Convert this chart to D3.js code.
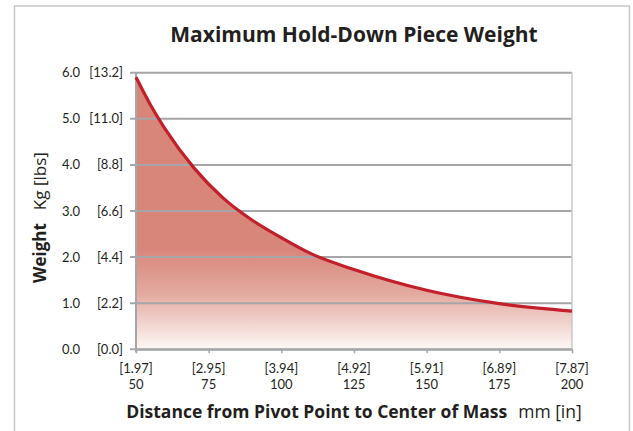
<!DOCTYPE html>
<html lang="en">

<head>
    <meta charset="UTF-8">
    <title>Maximum Hold-Down Piece Weight</title>
    <script src="https://d3js.org/d3.v7.min.js"></script>
    <style>
        body {
            margin: 0;
            background: #fff;
        }

        text {
            font-family: "Open Sans", Lato, "DejaVu Sans", sans-serif;
            fill: #231f20;
        }

        .title {
            font-size: 21px;
            font-weight: bold;
        }

        .tick_label {
            font-family: Lato, "Open Sans", sans-serif;
            font-size: 13px;
        }

        .axis_title {
            font-size: 17.5px;
        }

        .y_title {
            font-size: 17px;
        }
    </style>
</head>

<body>
    <svg id="chart" width="633" height="431"></svg>
    <script>
        // data
        let distanceMm = [50, 55, 60, 70, 80, 90, 100, 110, 125, 150, 175, 200]
        let weightKg = [5.9, 5.3, 4.78, 3.93, 3.28, 2.8, 2.42, 2.08, 1.73, 1.28, 0.99, 0.83]

        let xTicks = [50, 75, 100, 125, 150, 175, 200]
        let xTickInches = ["[1.97]", "[2.95]", "[3.94]", "[4.92]", "[5.91]", "[6.89]", "[7.87]"]
        let yTicks = [0, 1, 2, 3, 4, 5, 6]
        let yTickKg = ["0.0", "1.0", "2.0", "3.0", "4.0", "5.0", "6.0"]
        let yTickLbs = ["[0.0]", "[2.2]", "[4.4]", "[6.6]", "[8.8]", "[11.0]", "[13.2]"]

        let points = distanceMm.map((d, i) => ({ mm: d, kg: weightKg[i] }))

        let svg = d3.select("#chart")

        // plot box
        let plotLeft = 136, plotRight = 572, plotTop = 72.7, plotBottom = 349.3

        let x = d3.scaleLinear().domain([50, 200]).range([plotLeft, plotRight])
        let y = d3.scaleLinear().domain([0, 6]).range([plotBottom, plotTop])

        // outer frame
        svg.append("rect")
            .attr("x", 14.5).attr("y", 6)
            .attr("width", 615).attr("height", 440)
            .attr("fill", "none")
            .attr("stroke", "#c6c6c6")
            .attr("stroke-width", 1.5)

        // fading fill
        let defs = svg.append("defs")
        let grad = defs.append("linearGradient")
            .attr("id", "fade")
            .attr("gradientUnits", "userSpaceOnUse")
            .attr("x1", 0).attr("x2", 0)
            .attr("y1", y(2.2)).attr("y2", y(0))
        grad.append("stop").attr("offset", 0).attr("stop-color", "#d8857a")
        grad.append("stop").attr("offset", 0.45).attr("stop-color", "#e3aa9f")
        grad.append("stop").attr("offset", 1).attr("stop-color", "#fdf8f6")

        let area = d3.area()
            .x(d => x(d.mm))
            .y0(y(0))
            .y1(d => y(d.kg))
            .curve(d3.curveMonotoneX)

        svg.append("path")
            .datum(points)
            .attr("d", area)
            .attr("fill", "url(#fade)")

        // gridlines (they run over the fill)
        svg.append("g")
            .selectAll("line")
            .data(yTicks)
            .join("line")
            .attr("x1", plotLeft - 6)
            .attr("x2", plotRight)
            .attr("y1", d => y(d))
            .attr("y2", d => y(d))
            .attr("stroke", "#a6a6a9")
            .attr("stroke-width", 2)

        // right edge of plot
        svg.append("line")
            .attr("x1", plotRight).attr("x2", plotRight)
            .attr("y1", plotTop).attr("y2", plotBottom)
            .attr("stroke", "#c8c8c8")
            .attr("stroke-width", 1.5)

        // x axis with little ticks
        let xAxis = svg.append("g")
            .attr("transform", `translate(0,${plotBottom})`)
            .call(d3.axisBottom(x).tickValues(xTicks).tickSize(4).tickSizeOuter(0).tickFormat(""))
        xAxis.select(".domain").attr("stroke", "#a6a6a9").attr("stroke-width", 2)
        xAxis.selectAll(".tick line").attr("stroke", "#a6a6a9").attr("stroke-width", 1.5)

        // y axis line
        svg.append("line")
            .attr("x1", plotLeft).attr("x2", plotLeft)
            .attr("y1", plotTop).attr("y2", plotBottom + 3)
            .attr("stroke", "#a6a6a9")
            .attr("stroke-width", 2)

        // the curve
        let line = d3.line()
            .x(d => x(d.mm))
            .y(d => y(d.kg))
            .curve(d3.curveMonotoneX)

        svg.append("path")
            .datum(points)
            .attr("d", line)
            .attr("fill", "none")
            .attr("stroke", "#c21f2b")
            .attr("stroke-width", 3.2)

        // y tick labels: kg left, lbs right
        svg.append("g")
            .selectAll("text")
            .data(yTicks)
            .join("text")
            .attr("class", "tick_label")
            .attr("x", 62)
            .attr("y", d => y(d) + 4.5)
            .text((d, i) => yTickKg[i])

        svg.append("g")
            .selectAll("text")
            .data(yTicks)
            .join("text")
            .attr("class", "tick_label")
            .attr("x", 123)
            .attr("y", d => y(d) + 4.5)
            .attr("text-anchor", "end")
            .text((d, i) => yTickLbs[i])

        // x tick labels: inches on top, mm below
        svg.append("g")
            .selectAll("text")
            .data(xTicks)
            .join("text")
            .attr("class", "tick_label")
            .attr("x", d => x(d))
            .attr("y", 372.5)
            .attr("text-anchor", "middle")
            .text((d, i) => xTickInches[i])

        svg.append("g")
            .selectAll("text")
            .data(xTicks)
            .join("text")
            .attr("class", "tick_label")
            .attr("x", d => x(d))
            .attr("y", 388.5)
            .attr("text-anchor", "middle")
            .text(d => d)

        // titles
        svg.append("text")
            .attr("class", "title")
            .attr("x", (plotLeft + plotRight) / 2)
            .attr("y", 42)
            .attr("text-anchor", "middle")
            .text("Maximum Hold-Down Piece Weight")

        let xTitle = svg.append("text")
            .attr("class", "axis_title")
            .attr("x", (plotLeft + plotRight) / 2)
            .attr("y", 418)
            .attr("text-anchor", "middle")
        xTitle.append("tspan").attr("font-weight", "bold").text("Distance from Pivot Point to Center of Mass")
        xTitle.append("tspan").attr("dx", 11).text("mm [in]")

        let yTitle = svg.append("text")
            .attr("class", "y_title")
            .attr("transform", "translate(46,283) rotate(-90)")
        yTitle.append("tspan").attr("font-weight", "bold").text("Weight")
        yTitle.append("tspan").attr("dx", 13).text("Kg [lbs]")
    </script>
</body>

</html>
